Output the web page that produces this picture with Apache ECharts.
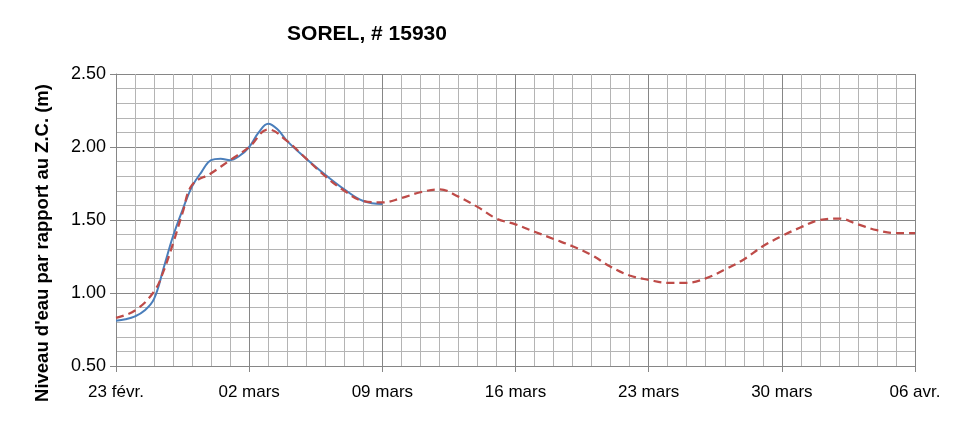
<!DOCTYPE html>
<html>
<head>
<meta charset="utf-8">
<script src="https://cdn.jsdelivr.net/npm/echarts@6/dist/echarts.min.js"></script>
<style>html,body{margin:0;padding:0;background:#fff}#c{width:971px;height:421px}</style>
</head>
<body>
<div id="c"></div>
<script>
var title = 'SOREL, # 15930';
var yTitle = "Niveau d'eau par rapport au Z.C. (m)";
var tickLabels = ['23 févr.', '02 mars', '09 mars', '16 mars', '23 mars', '30 mars', '06 avr.'];
var yTicks = ['0.50', '1.00', '1.50', '2.00', '2.50'];

var observedDays = [0, 0.5, 1, 1.5, 2, 2.5, 3, 3.5, 4, 4.5, 5, 5.5, 6, 6.5, 7, 7.5, 8, 8.5, 9, 10, 11, 12, 13, 14];
var observedValues = [0.81, 0.82, 0.84, 0.88, 0.96, 1.17, 1.39, 1.57, 1.73, 1.83, 1.91, 1.92, 1.91, 1.94, 2.00, 2.10, 2.16, 2.12, 2.04, 1.92, 1.81, 1.71, 1.63, 1.61];

var forecastDays = [0, 1, 2, 2.5, 3, 3.5, 4, 5, 6, 7, 8, 9, 10, 11, 12, 13, 14, 15, 16, 17, 18, 19, 20, 21, 22, 23, 24, 25, 26, 27, 28, 29, 30, 31, 32, 33, 34, 35, 36, 37, 38, 39, 40, 41, 42];
var forecastValues = [0.83, 0.88, 1.01, 1.15, 1.34, 1.55, 1.74, 1.82, 1.91, 2.00, 2.12, 2.04, 1.92, 1.80, 1.70, 1.63, 1.62, 1.65, 1.69, 1.71, 1.66, 1.59, 1.51, 1.47, 1.42, 1.37, 1.32, 1.26, 1.18, 1.12, 1.09, 1.07, 1.07, 1.10, 1.16, 1.23, 1.32, 1.39, 1.45, 1.50, 1.51, 1.47, 1.43, 1.41, 1.41];

function zip(a, b) { return a.map(function (d, i) { return [d, b[i]]; }); }

var font = "'Liberation Sans', Arial, sans-serif";
var chart = echarts.init(document.getElementById('c'), null, { renderer: 'canvas' });
chart.setOption({
  animation: false,
  backgroundColor: '#ffffff',
  title: {
    text: title, left: 362, top: 19, textAlign: 'center',
    textStyle: { fontFamily: font, fontSize: 21, fontWeight: 'bold', color: '#000' }
  },
  graphic: [{
    type: 'text', x: 43, y: 243, rotation: Math.PI / 2,
    style: { text: yTitle, fontFamily: font, fontSize: 18.5, fontWeight: 'bold', fill: '#000', align: 'center', verticalAlign: 'middle' }
  }],
  grid: { left: 116, right: 56, top: 74, bottom: 55 },
  xAxis: {
    type: 'value', min: 0, max: 42, interval: 7,
    axisLine: { show: true, lineStyle: { color: '#868686', width: 1 } },
    axisTick: { show: true, length: 6, lineStyle: { color: '#868686' } },
    axisLabel: {
      fontFamily: font, fontSize: 17, color: '#000', margin: 18,
      formatter: function (v) { return tickLabels[Math.round(v / 7)] || ''; }
    },
    splitLine: { show: true, lineStyle: { color: '#868686', width: 1 } },
    minorTick: { show: false, splitNumber: 7 },
    minorSplitLine: { show: true, lineStyle: { color: '#b4b4b4', width: 1 } }
  },
  yAxis: {
    type: 'value', min: 0.5, max: 2.5, interval: 0.5,
    axisLine: { show: true, lineStyle: { color: '#868686', width: 1 } },
    axisTick: { show: true, length: 6, lineStyle: { color: '#868686' } },
    axisLabel: {
      fontFamily: font, fontSize: 18, color: '#000', margin: 10,
      formatter: function (v) { return yTicks[Math.round((v - 0.5) / 0.5)] || ''; }
    },
    splitLine: { show: true, lineStyle: { color: '#868686', width: 1 } },
    minorTick: { show: false, splitNumber: 5 },
    minorSplitLine: { show: true, lineStyle: { color: '#b4b4b4', width: 1 } }
  },
  series: [
    {
      name: 'Prévu', type: 'line', data: zip(forecastDays, forecastValues), showSymbol: false, smooth: 0.4,
      lineStyle: { color: '#be4b48', width: 2.25, type: [8, 5] }, z: 3
    },
    {
      name: 'Observé', type: 'line', data: zip(observedDays, observedValues), showSymbol: false, smooth: 0.4,
      lineStyle: { color: '#4a7ebb', width: 2 }, z: 2
    }
  ]
});
</script>
</body>
</html>
